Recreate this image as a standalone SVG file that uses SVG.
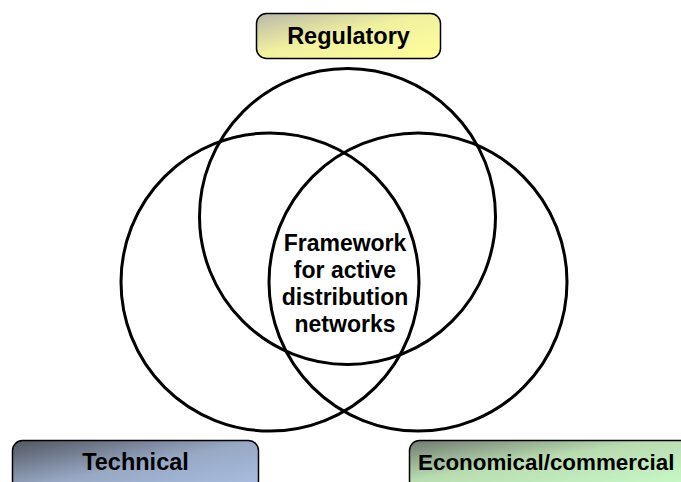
<svg xmlns="http://www.w3.org/2000/svg" width="681" height="482" viewBox="0 0 681 482">
<defs>
<linearGradient id="gY" x1="0" y1="0" x2="1" y2="1">
<stop offset="0" stop-color="#b8b8a8"/><stop offset="0.45" stop-color="#f0f0a0"/><stop offset="1" stop-color="#ffff99"/>
</linearGradient>
<linearGradient id="gB" x1="0" y1="0" x2="1" y2="1">
<stop offset="0" stop-color="#505560"/><stop offset="0.5" stop-color="#98a8c4"/><stop offset="1" stop-color="#aac0e4"/>
</linearGradient>
<linearGradient id="gG" x1="0" y1="0" x2="1" y2="1">
<stop offset="0" stop-color="#707a70"/><stop offset="0.4" stop-color="#b8dcb0"/><stop offset="1" stop-color="#ccffcc"/>
</linearGradient>
<style>
.c{fill:none;stroke:#000;stroke-width:3}
.b{stroke:#000;stroke-width:1.5}
.t{font-family:"Liberation Sans",Arial,sans-serif;font-weight:bold;font-size:23.5px;fill:#000;text-anchor:middle}
.m{font-family:"Liberation Sans",Arial,sans-serif;font-weight:bold;font-size:23px;fill:#000;text-anchor:middle}
</style>
</defs>
<rect width="681" height="482" fill="#fff"/>
<g id="circles">
<circle id="c-top" class="c" cx="347.5" cy="216.5" r="148"/>
<circle id="c-left" class="c" cx="270" cy="282" r="149"/>
<circle id="c-right" class="c" cx="418" cy="282" r="149"/>
</g>
<g id="center">
<text class="m" x="345" y="251">Framework</text>
<text class="m" x="345" y="278">for active</text>
<text class="m" x="345" y="305">distribution</text>
<text class="m" x="345" y="332">networks</text>
</g>
<g id="regulatory">
<rect class="b" x="256.5" y="13.5" width="184" height="45" rx="10" fill="url(#gY)"/>
<text class="t" x="348.5" y="44">Regulatory</text>
</g>
<g id="technical">
<rect class="b" x="12.5" y="440.5" width="246" height="50" rx="10" fill="url(#gB)"/>
<text class="t" x="135.5" y="470">Technical</text>
</g>
<g id="economical">
<rect class="b" x="409.5" y="440.5" width="300" height="50" rx="10" fill="url(#gG)"/>
<text class="t" x="418" y="470" style="text-anchor:start;font-size:22.4px">Economical/commercial</text>
</g>
</svg>
